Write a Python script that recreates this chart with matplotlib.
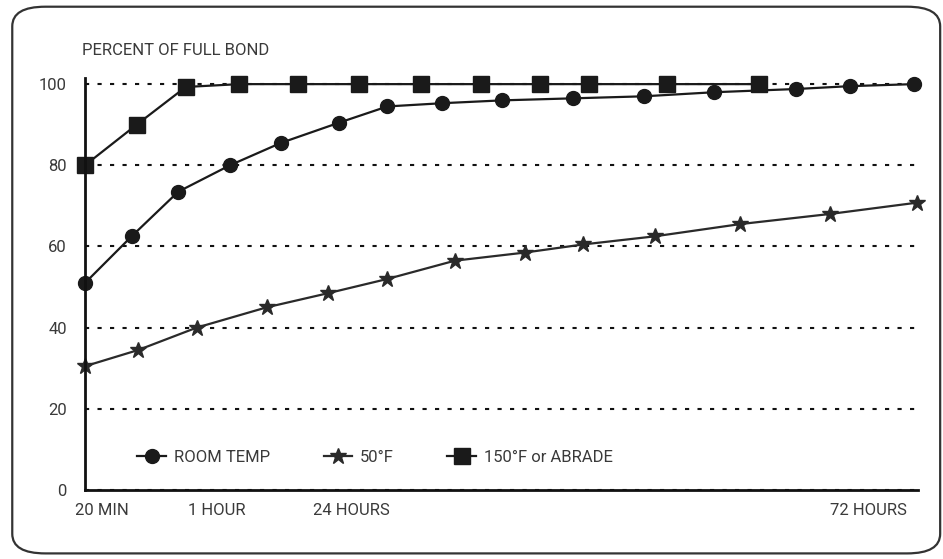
import matplotlib
matplotlib.use("Agg")
import matplotlib.pyplot as plt
from matplotlib import font_manager
from matplotlib.patches import FancyBboxPatch

# positions along the time axis (0 = 20 min, 100 = end of 72 hours)
room_x = [0, 5.6, 11.2, 17.4, 23.5, 30.5, 36.3, 42.9, 50.1, 58.6, 67.1, 75.5, 85.4, 91.8, 99.5]
room_y = [51, 62.5, 73.5, 80, 85.5, 90.5, 94.5, 95.3, 96, 96.5, 97, 98, 98.8, 99.5, 100]

cold_x = [0, 6.4, 13.4, 21.8, 29.2, 36.3, 44.4, 52.8, 59.8, 68.4, 78.6, 89.4, 99.9]
cold_y = [30.5, 34.5, 40, 45, 48.5, 52, 56.5, 58.5, 60.5, 62.5, 65.5, 68, 70.8]

hot_x = [0, 6.2, 12.1, 18.5, 25.6, 32.9, 40.3, 47.5, 54.6, 60.5, 69.9, 80.9]
hot_y = [80, 90, 99.3, 100, 100, 100, 100, 100, 100, 100, 100, 100]

tick_pos = [2.0, 15.8, 32.0, 94.1]
tick_labels = ["20 MIN", "1 HOUR", "24 HOURS", "72 HOURS"]
y_ticks = [0, 20, 40, 60, 80, 100]

names = [f.name for f in font_manager.fontManager.ttflist]
if "Liberation Sans Narrow" in names:
    fam = "Liberation Sans Narrow"
else:
    fam = "Roboto"
plt.rcParams["font.family"] = [fam, "DejaVu Sans"]
plt.rcParams["lines.scale_dashes"] = False

txt = "#3a3a3a"
fs = 12

fig = plt.figure(figsize=(9.43, 5.59), dpi=100)
ax = fig.add_axes([0.0901, 0.1234, 0.8834, 0.737])

ax.plot(room_x, room_y, color="#1a1a1a", lw=1.6, marker="o", ms=10, label="ROOM TEMP", clip_on=False)
ax.plot(cold_x, cold_y, color="#2a2a2a", lw=1.6, marker="*", ms=12, label="50°F", clip_on=False)
ax.plot(hot_x, hot_y, color="#1a1a1a", lw=1.6, marker="s", ms=11, label="150°F or ABRADE", clip_on=False)

ax.set_xlim(0, 100)
ax.set_ylim(0, 101.5)
ax.set_yticks(y_ticks)
ax.set_xticks(tick_pos)
ax.set_xticklabels(tick_labels)
ax.tick_params(axis="both", length=0, labelsize=fs, labelcolor=txt)
ax.tick_params(axis="y", pad=13)
ax.tick_params(axis="x", pad=9)

ax.grid(axis="y", color="#111111", lw=1.5, linestyle=(0, (3, 6)))
ax.set_axisbelow(True)
for s in ["top", "right"]:
    ax.spines[s].set_visible(False)
for s in ["left", "bottom"]:
    ax.spines[s].set_linewidth(2)
    ax.spines[s].set_color("#111111")

leg = ax.legend(loc="lower left", bbox_to_anchor=(0.045, 0.025), ncol=3, frameon=False,
                fontsize=fs, handlelength=1.7, columnspacing=3.2, handletextpad=0.5,
                labelcolor=txt)

fig.text(0.087, 0.91, "PERCENT OF FULL BOND", fontsize=fs, color=txt, va="center", ha="left")

border = FancyBboxPatch((0.013, 0.01), 0.984, 0.978, transform=fig.transFigure,
                        boxstyle="round,pad=0,rounding_size=0.035", fill=False,
                        edgecolor="#333333", lw=1.6)
fig.patches.append(border)

fig.savefig("out.png", dpi=100)
